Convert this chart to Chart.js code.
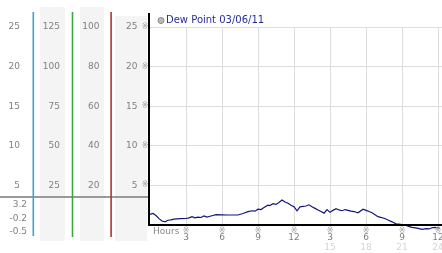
<!DOCTYPE html>
<html>
<head>
<meta charset="utf-8">
<script src="https://cdn.jsdelivr.net/npm/chart.js@4.4.1/dist/chart.umd.min.js"></script>
<style>
  html, body { margin: 0; padding: 0; background: #fff; }
  #wrap { width: 442px; height: 253px; }
</style>
</head>
<body>
<div id="wrap"><canvas id="dewChart" width="442" height="253"></canvas></div>
<script>
// 1. DATOS
const seriesLabel = 'Dew Point 03/06/11';
const hours = [0, 0.25, 0.5, 0.75, 1, 1.25, 1.5, 1.75, 2, 2.5, 3, 3.25, 3.5, 3.75, 4, 4.25, 4.5, 4.75, 5, 5.25, 5.5, 6, 6.5, 7, 7.33, 7.75,
  8.17, 8.5, 8.75, 9, 9.25, 9.5, 9.83, 10, 10.25, 10.5, 10.75, 11, 11.25, 11.5, 11.75, 12, 12.25, 12.5, 12.75, 13, 13.25, 13.5, 13.75,
  14, 14.25, 14.5, 14.75, 15, 15.25, 15.5, 15.75, 16, 16.25, 16.5, 16.75, 17, 17.33, 17.75, 18, 18.25, 18.5, 18.75, 19, 19.5, 19.83,
  20.17, 20.5, 20.75, 21, 21.25, 21.5, 21.83, 22.25, 22.67, 23, 23.25, 23.5, 23.75, 24, 24.17];
const dewPoint = [1.35, 1.45, 1.2, 0.8, 0.5, 0.4, 0.6, 0.65, 0.75, 0.8, 0.82, 0.9, 1.05, 0.9, 1.0, 0.95, 1.15, 1.0, 1.1, 1.2, 1.3, 1.28, 1.26, 1.26, 1.26, 1.45,
  1.68, 1.8, 1.75, 2.0, 1.95, 2.2, 2.5, 2.45, 2.7, 2.6, 2.85, 3.15, 2.9, 2.75, 2.5, 2.3, 1.8, 2.3, 2.35, 2.4, 2.55, 2.3, 2.1,
  1.9, 1.7, 1.5, 1.95, 1.6, 1.85, 2.05, 1.9, 1.8, 1.95, 1.85, 1.75, 1.7, 1.55, 2.0, 1.85, 1.7, 1.55, 1.3, 1.05, 0.85, 0.63,
  0.4, 0.15, 0.1, 0.05, 0.0, -0.15, -0.3, -0.4, -0.55, -0.45, -0.5, -0.35, -0.3, -0.38, -0.38];

const yTicks = [25, 20, 15, 10, 5];
const colA = ['25', '20', '15', '10', '5'];
const colB = ['125', '100', '75', '50', '25'];
const colC = ['100', '80', '60', '40', '20'];
const statLabels = ['3.2', '-0.2', '-0.5'];
const xTicks = [3, 6, 9, 12, 15, 18, 21, 24];
const xLabels = ['3', '6', '9', '12', '3', '6', '9', '12'];
const xLabels24 = ['', '', '', '', '15', '18', '21', '24'];

const FONT = '"DejaVu Sans", Verdana, sans-serif';

// 2. PANEL IZQUIERDO Y DECORACIONES
const panelPlugin = {
  id: 'panel',
  beforeDraw(chart) {
    const { ctx, scales: { y } } = chart;
    ctx.save();
    // bandas grises
    ctx.fillStyle = '#f4f4f4';
    ctx.fillRect(40, 7, 25, 234);
    ctx.fillRect(80, 7, 24, 234);
    ctx.fillRect(115, 16, 32, 225);
    // linea horizontal
    ctx.fillStyle = '#9a9a9a';
    ctx.fillRect(0, 196, 149, 2);
    // separadores de color
    ctx.fillStyle = '#3aa6c8';
    ctx.fillRect(32.5, 12, 1.6, 224);
    ctx.fillStyle = '#3aa83a';
    ctx.fillRect(71.7, 12, 1.6, 225);
    ctx.fillStyle = '#b03636';
    ctx.fillRect(110.3, 12, 1.6, 225);

    ctx.font = '9px ' + FONT;
    ctx.fillStyle = '#808080';
    ctx.textAlign = 'right';
    ctx.textBaseline = 'middle';
    yTicks.forEach((v, i) => {
      const py = y.getPixelForValue(v);
      ctx.fillText(colA[i], 20, py);
      ctx.fillText(colB[i], 60, py);
      ctx.fillText(colC[i], 99.5, py);
      ctx.fillText(String(v), 137.5, py);
    });
    statLabels.forEach((s, i) => ctx.fillText(s, 27, 205 + i * 13.5));
    ctx.restore();
  },
  afterDraw(chart) {
    const { ctx, chartArea, scales: { x, y } } = chart;
    const y0 = y.getPixelForValue(0);
    ctx.save();
    // ejes negros
    ctx.fillStyle = '#000';
    ctx.fillRect(148, 13, 2, y0 - 13);
    ctx.fillRect(148, y0 - 1, chartArea.right - 148, 2);

    // marcas pequenas
    ctx.font = '8px ' + FONT;
    ctx.fillStyle = '#a0a0a0';
    ctx.textAlign = 'center';
    ctx.textBaseline = 'middle';
    yTicks.forEach(v => ctx.fillText('\u203B', 145, y.getPixelForValue(v)));
    xTicks.forEach(h => ctx.fillText('\u203B', x.getPixelForValue(h), 230.5));

    // etiquetas del eje x
    ctx.font = '9px ' + FONT;
    ctx.fillStyle = '#808080';
    xTicks.forEach((h, i) => ctx.fillText(xLabels[i], x.getPixelForValue(h), 238));
    ctx.fillStyle = '#d4d4d4';
    xTicks.forEach((h, i) => ctx.fillText(xLabels24[i], x.getPixelForValue(h), 248));
    ctx.fillStyle = '#888';
    ctx.textAlign = 'left';
    ctx.fillText('Hours', 153, 232);

    // leyenda
    ctx.beginPath();
    ctx.arc(161, 20.5, 3, 0, Math.PI * 2);
    ctx.fillStyle = '#bbb';
    ctx.fill();
    ctx.strokeStyle = '#888';
    ctx.lineWidth = 1;
    ctx.stroke();
    ctx.font = '10px ' + FONT;
    ctx.fillStyle = '#2a2a9c';
    ctx.fillText(chart.data.datasets[0].label, 166, 20.5);
    ctx.restore();
  }
};

// 3. GRAFICA
new Chart(document.getElementById('dewChart'), {
  type: 'line',
  data: {
    datasets: [{
      label: seriesLabel,
      data: hours.map((h, i) => ({ x: h, y: dewPoint[i] })),
      borderColor: '#14147e',
      borderWidth: 1.2,
      pointRadius: 0,
      tension: 0,
      fill: false,
      clip: false
    }]
  },
  options: {
    responsive: false,
    animation: false,
    layout: { padding: { left: 150, top: 27, right: 0, bottom: 28 } },
    plugins: { legend: { display: false }, tooltip: { enabled: false } },
    scales: {
      x: {
        type: 'linear',
        min: 0,
        max: 24.33,
        afterBuildTicks: s => { s.ticks = xTicks.map(v => ({ value: v })); },
        afterFit: s => { s.height = 0; },
        ticks: { display: false },
        grid: { color: '#dddddd', drawTicks: false },
        border: { display: false }
      },
      y: {
        min: 0,
        max: 25,
        afterBuildTicks: s => { s.ticks = yTicks.map(v => ({ value: v })); },
        afterFit: s => { s.width = 0; },
        ticks: { display: false },
        grid: { color: '#dddddd', drawTicks: false },
        border: { display: false }
      }
    }
  },
  plugins: [panelPlugin]
});
</script>
</body>
</html>
